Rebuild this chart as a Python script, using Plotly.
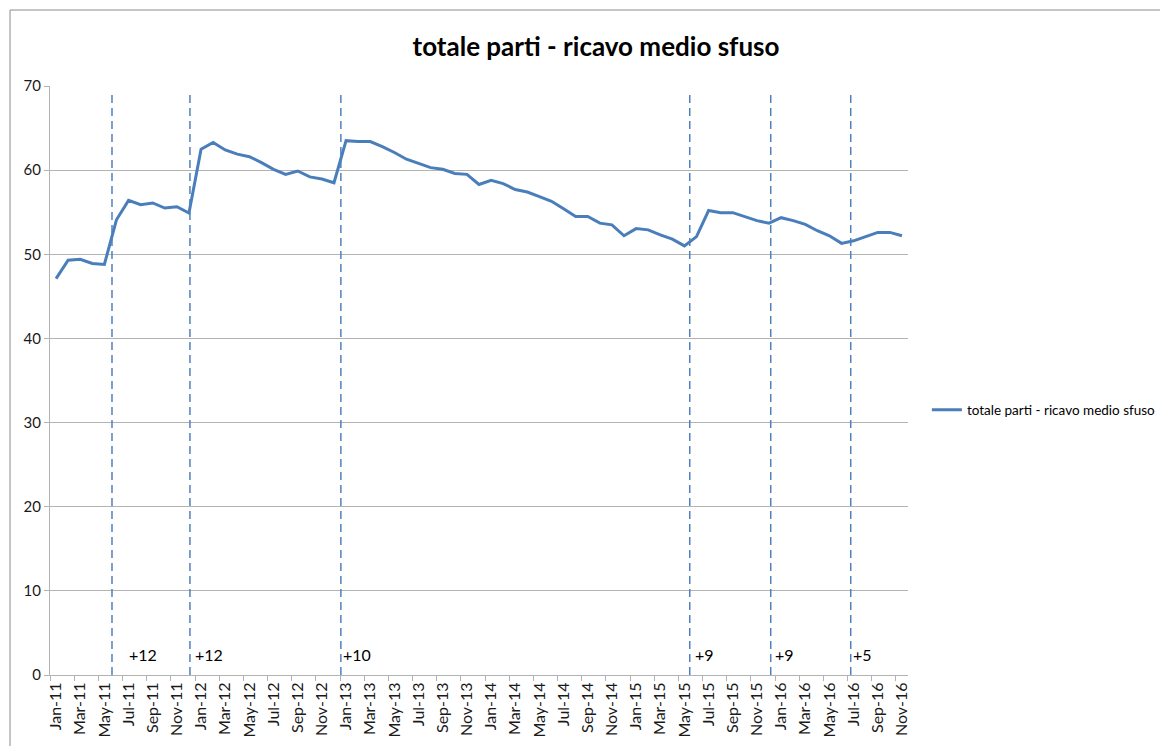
import plotly.graph_objects as go

# ---- data ----
years = ["11", "12", "13", "14", "15", "16"]
month_names = ["Jan", "Feb", "Mar", "Apr", "May", "Jun",
               "Jul", "Aug", "Sep", "Oct", "Nov", "Dec"]
categories = [f"{m}-{y}" for y in years for m in month_names][:71]  # Jan-11 .. Nov-16

series_name = "totale parti - ricavo medio sfuso"
values = [
    47.1, 49.3, 49.4, 48.9, 48.8, 54.1, 56.4, 55.9, 56.1, 55.5, 55.65, 54.9,
    62.5, 63.3, 62.4, 61.9, 61.6, 60.9, 60.1, 59.5, 59.9, 59.2, 58.95, 58.5,
    63.5, 63.4, 63.4, 62.8, 62.1, 61.3, 60.8, 60.3, 60.1, 59.6, 59.5, 58.3,
    58.8, 58.4, 57.7, 57.4, 56.85, 56.3, 55.4, 54.5, 54.5, 53.7, 53.5, 52.2,
    53.05, 52.9, 52.3, 51.8, 51.0, 52.1, 55.2, 54.95, 54.95, 54.5, 54.0, 53.7,
    54.35, 54.0, 53.55, 52.8, 52.2, 51.3, 51.6, 52.1, 52.6, 52.6, 52.2,
]

# vertical event markers (category index positions) and their labels
event_pos = [4.63, 11.08, 23.57, 52.44, 59.14, 65.76]
event_label_pos = [5.87, 11.33, 23.57, 52.69, 59.3, 65.76]
event_labels = ["+12", "+12", "+10", "+9", "+9", "+5"]

y_ticks = [0, 10, 20, 30, 40, 50, 60, 70]

# ---- figure ----
FONT = "Lato, 'Open Sans', sans-serif"
LINE_BLUE = "#4a7ebb"
DASH_BLUE = "#4f81bd"
GRID = "#b3b3b3"

fig = go.Figure()
fig.add_trace(go.Scatter(
    x=categories, y=values, mode="lines", name=series_name,
    line=dict(color=LINE_BLUE, width=3),
))

shapes = []
for p in event_pos:
    shapes.append(dict(type="line", xref="x", yref="y", x0=p, x1=p, y0=0, y1=69.3,
                       line=dict(color=DASH_BLUE, width=1.5, dash="8px,5px")))
# outer chart border
shapes.append(dict(type="rect", xref="paper", yref="paper",
                   x0=-0.0466, x1=1.31, y0=-0.2, y1=1.129,
                   line=dict(color="#8c8c8c", width=1), fillcolor="rgba(0,0,0,0)", layer="below"))

annotations = []
for p, t in zip(event_label_pos, event_labels):
    annotations.append(dict(x=p, y=2.4, xref="x", yref="y", text=t, showarrow=False,
                            xanchor="left", yanchor="middle",
                            font=dict(family=FONT, size=16, color="#000000")))

fig.update_layout(
    width=1160, height=738,
    margin=dict(l=42, r=260, t=78, b=71, autoexpand=False),
    paper_bgcolor="white", plot_bgcolor="white",
    title=dict(text="<b>totale parti - ricavo medio sfuso</b>", x=0.5069, xref="container",
               xanchor="center", y=0.9472, yref="container", yanchor="middle",
               font=dict(family=FONT, size=26, color="#000000")),
    font=dict(family=FONT, size=13, color="#000000"),
    showlegend=True,
    legend=dict(x=1.022, y=0.45, xanchor="left", yanchor="middle",
                font=dict(family=FONT, size=13.5, color="#000000"),
                bgcolor="rgba(0,0,0,0)"),
    shapes=shapes,
    annotations=annotations,
)

fig.update_xaxes(
    type="category", categoryorder="array", categoryarray=categories,
    range=[-0.5, 70.5], tickmode="linear", tick0=0, dtick=2, automargin=False,
    tickangle=-90, tickson="boundaries", ticks="outside", ticklen=5, tickcolor=GRID,
    showline=True, linecolor=GRID, linewidth=1, showgrid=False, zeroline=False,
    tickfont=dict(family=FONT, size=16, color="#1a1a1a"),
)
fig.update_yaxes(
    range=[0, 70], tickvals=y_ticks, ticks="outside", ticklen=5, tickcolor=GRID, automargin=False,
    showline=True, linecolor=GRID, linewidth=1, showgrid=True, gridcolor=GRID, gridwidth=1,
    zeroline=False, tickfont=dict(family=FONT, size=15, color="#1a1a1a"),
)

fig.write_html("out.html")
